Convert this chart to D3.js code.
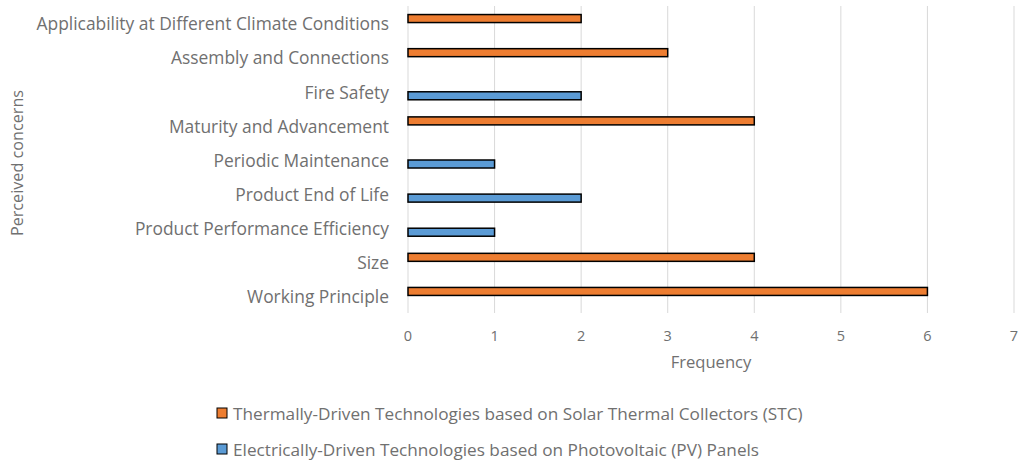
<!DOCTYPE html>
<html>
<head>
<meta charset="utf-8">
<script src="https://cdn.jsdelivr.net/npm/d3@7"></script>
<style>
  html, body { margin: 0; padding: 0; background: #fff; }
  svg text { font-family: "Open Sans", Lato, sans-serif; fill: #707070; }
</style>
</head>
<body>
<svg id="chart" width="1022" height="462"></svg>
<script>
// Perceived concerns, listed top to bottom
const categories = [
  "Applicability at Different Climate Conditions",
  "Assembly and Connections",
  "Fire Safety",
  "Maturity and Advancement",
  "Periodic Maintenance",
  "Product End of Life",
  "Product Performance Efficiency",
  "Size",
  "Working Principle"
];
const seriesNames = [
  "Thermally-Driven Technologies based on Solar Thermal Collectors (STC)",
  "Electrically-Driven Technologies based on Photovoltaic (PV) Panels"
];
const stcValues = [2, 3, 0, 4, 0, 0, 0, 4, 6];
const pvValues  = [0, 0, 2, 0, 1, 2, 1, 0, 0];
const xTicks = [0, 1, 2, 3, 4, 5, 6, 7];
const colors = ["#ED7D31", "#5B9BD5"];

const svg = d3.select("#chart");
const plotTop = 6, plotBottom = 313;

const x = d3.scaleLinear().domain([0, 7]).range([408, 1014]);
const y = d3.scaleBand().domain(categories).range([plotTop, plotBottom]);
const inner = d3.scaleBand().domain([0, 1]).range([y.bandwidth() / 2 - 9, y.bandwidth() / 2 + 9]);

// vertical gridlines
svg.append("g").selectAll("line").data(xTicks).join("line")
  .attr("x1", d => x(d)).attr("x2", d => x(d))
  .attr("y1", plotTop).attr("y2", plotBottom)
  .attr("stroke", "#d9d9d9").attr("stroke-width", 1);

// tick labels
svg.append("g").selectAll("text").data(xTicks).join("text")
  .attr("x", d => x(d)).attr("y", 341)
  .attr("text-anchor", "middle")
  .attr("font-size", 14.5)
  .text(d => d);

// category labels
svg.append("g").selectAll("text").data(categories).join("text")
  .attr("x", 389).attr("y", d => y(d) + y.bandwidth() / 2)
  .attr("dy", "0.42em")
  .attr("text-anchor", "end")
  .attr("font-size", 17.4)
  .text(d => d);

// bars
const series = [stcValues, pvValues];
series.forEach((vals, si) => {
  svg.append("g").selectAll("rect")
    .data(vals.map((v, i) => ({ v, c: categories[i] })).filter(d => d.v > 0))
    .join("rect")
    .attr("x", x(0))
    .attr("y", d => y(d.c) + inner(si) + 0.5)
    .attr("width", d => x(d.v) - x(0))
    .attr("height", inner.bandwidth() - 1)
    .attr("fill", colors[si])
    .attr("stroke", "#000")
    .attr("stroke-width", 1.5);
});

// axis titles
svg.append("text")
  .attr("x", 711).attr("y", 368)
  .attr("text-anchor", "middle")
  .attr("font-size", 16.6)
  .text("Frequency");

svg.append("text")
  .attr("transform", "translate(23,163) rotate(-90)")
  .attr("text-anchor", "middle")
  .attr("font-size", 16.2)
  .text("Perceived  concerns");

// legend
const legend = svg.append("g");
seriesNames.forEach((name, i) => {
  const ly = 413 + i * 36;
  legend.append("rect")
    .attr("x", 217).attr("y", ly - 5)
    .attr("width", 10).attr("height", 10)
    .attr("fill", colors[i]).attr("stroke", "#000").attr("stroke-width", 1);
  legend.append("text")
    .attr("x", 233).attr("y", ly)
    .attr("dy", "0.38em")
    .attr("font-size", 17.2)
    .text(name);
});
</script>
</body>
</html>
